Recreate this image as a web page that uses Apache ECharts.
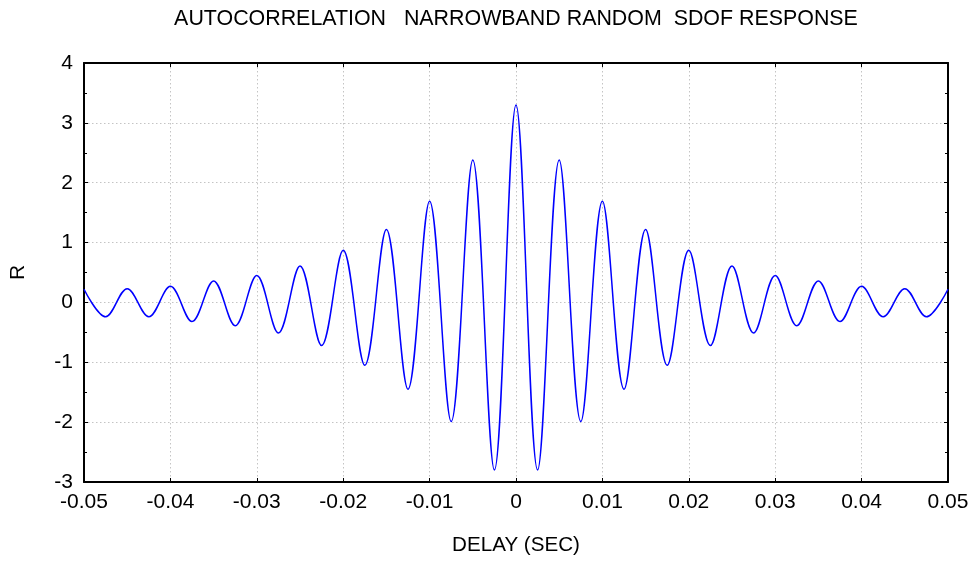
<!DOCTYPE html>
<html>
<head>
<meta charset="utf-8">
<script src="https://cdn.jsdelivr.net/npm/echarts@6/dist/echarts.min.js"></script>
<style>
html,body{margin:0;padding:0;background:#fff;}
#chart{width:973px;height:561px;}
</style>
</head>
<body>
<div id="chart"></div>
<script>
// Delay (sec) of each peak / trough
const delay = [
  -0.05,-0.0475,-0.045,-0.0425,-0.04,-0.0375,-0.035,-0.0325,
  -0.03,-0.0275,-0.025,-0.0225,-0.02,-0.0175,-0.015,-0.0125,
  -0.01,-0.0075,-0.005,-0.0025,
  0,
  0.0025,0.005,0.0075,0.01,0.0125,0.015,0.0175,0.02,
  0.0225,0.025,0.0275,0.03,0.0325,0.035,0.0375,0.04,
  0.0425,0.045,0.0475,0.05
];
// Autocorrelation R at those delays
const rValue = [
  0.22,-0.24,0.23,-0.24,0.27,-0.32,0.36,-0.39,
  0.45,-0.51,0.61,-0.72,0.87,-1.05,1.22,-1.45,
  1.69,-1.99,2.38,-2.80,
  3.30,
  -2.80,2.38,-1.99,1.69,-1.45,1.22,-1.05,0.87,
  -0.72,0.61,-0.51,0.45,-0.39,0.36,-0.32,0.27,
  -0.24,0.23,-0.24,0.22
];
const titleText = 'AUTOCORRELATION   NARROWBAND RANDOM  SDOF RESPONSE';
const xName = 'DELAY (SEC)';
const yName = 'R';

const FONT = 'Liberation Sans, Arial, sans-serif';
const seriesData = delay.map((d, i) => [d, rValue[i]]);

const chart = echarts.init(document.getElementById('chart'), null, {renderer: 'canvas'});
const axisLine = {show: true, onZero: false, lineStyle: {color: '#000', width: 2}};
const split = {show: true, lineStyle: {color: '#c4c4c4', width: 1, type: [1.5, 2.5]}};
const tick = {show: true, inside: true, length: 4, lineStyle: {color: '#000', width: 1}};
const minor = {show: true, splitNumber: 2, length: 3, lineStyle: {color: '#000', width: 1}};
chart.setOption({
  animation: false,
  backgroundColor: '#fff',
  graphic: [{
    type: 'text', x: 516, y: 19,
    style: {text: titleText, font: '21.4px ' + FONT, fill: '#000', textAlign: 'center', textVerticalAlign: 'middle'}
  }],
  grid: {left: 83, right: 25, top: 63, bottom: 79, containLabel: false},
  xAxis: [{
    type: 'value', min: -0.05, max: 0.05, interval: 0.01, position: 'bottom',
    name: xName, nameLocation: 'middle', nameGap: 53,
    nameTextStyle: {fontFamily: FONT, fontSize: 20.6, color: '#000'},
    axisLine: axisLine, axisTick: tick,
    axisLabel: {fontFamily: FONT, fontSize: 21, color: '#000', margin: 10},
    splitLine: split
  }, {
    type: 'value', min: -0.05, max: 0.05, interval: 0.01, position: 'top',
    axisLine: axisLine, axisTick: tick,
    axisLabel: {show: false}, splitLine: {show: false}
  }],
  yAxis: [{
    type: 'value', min: -3, max: 4, interval: 1, position: 'left',
    name: yName, nameLocation: 'middle', nameGap: 55,
    nameTextStyle: {fontFamily: FONT, fontSize: 21, color: '#000'},
    axisLine: axisLine, axisTick: tick, minorTick: minor,
    axisLabel: {fontFamily: FONT, fontSize: 21, color: '#000', margin: 11},
    splitLine: split
  }, {
    type: 'value', min: -3, max: 4, interval: 1, position: 'right',
    axisLine: axisLine, axisTick: tick, minorTick: minor,
    axisLabel: {show: false}, splitLine: {show: false}
  }],
  series: [{
    type: 'line', xAxisIndex: 0, yAxisIndex: 0,
    data: seriesData, smooth: 0.36, showSymbol: false,
    lineStyle: {color: '#0000ff', width: 1.5},
    z: 3
  }]
});
</script>
</body>
</html>
